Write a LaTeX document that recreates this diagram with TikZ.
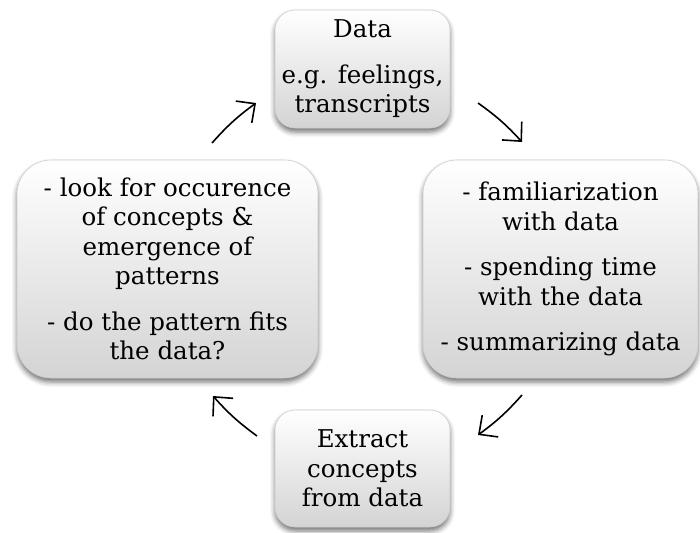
\documentclass[tikz,border=0pt]{standalone}
\usepackage{fontspec}
\setmainfont{DejaVu Serif}
\usetikzlibrary{arrows.meta,shadows.blur}
\begin{document}
\begin{tikzpicture}[x=1pt,y=-1pt,
  card/.style={rounded corners=#1, draw=gray!40, line width=0.6pt,
    top color=white, bottom color=gray!34, align=center, inner sep=0pt,
    font=\fontsize{24.5}{29.5}\selectfont,
    blur shadow={shadow xshift=0pt,shadow yshift=-4pt,
      shadow blur radius=5pt,shadow opacity=55}},
  cycle/.style={-{Straight Barb[length=14pt,width=27pt]},
    line width=1.6pt, bend left=6}]
\useasboundingbox (0,0) rectangle (700,532);

% the four stages
\node[card=20pt, minimum width=175pt, minimum height=118pt] (data)
  at (362.5,69) {Data\\[16pt] e.g. feelings,\\ transcripts};
\node[card=34pt, minimum width=275pt, minimum height=218pt] (famil)
  at (560.5,269) {- familiarization\\ with data\\[16pt]
  - spending time\\ with the data\\[16pt] - summarizing data};
\node[card=20pt, minimum width=175pt, minimum height=117pt] (extract)
  at (362.5,468.5) {Extract\\ concepts\\ from data};
\node[card=34pt, minimum width=301pt, minimum height=218pt] (look)
  at (167.5,269) {- look for occurence\\ of concepts \&\\ emergence of\\
  patterns\\[16pt] - do the pattern fits\\ the data?};

% arrow ends between the stages
\coordinate (a1s) at (212,143); \coordinate (a1e) at (256,103);
\coordinate (a2s) at (478,103); \coordinate (a2e) at (522,142);
\coordinate (a3s) at (522,395); \coordinate (a3e) at (478,435);
\coordinate (a4s) at (257,436); \coordinate (a4e) at (213,396);

\draw[cycle] (a1s) to (a1e);
\draw[cycle] (a2s) to (a2e);
\draw[cycle] (a3s) to (a3e);
\draw[cycle] (a4s) to (a4e);
\end{tikzpicture}
\end{document}
